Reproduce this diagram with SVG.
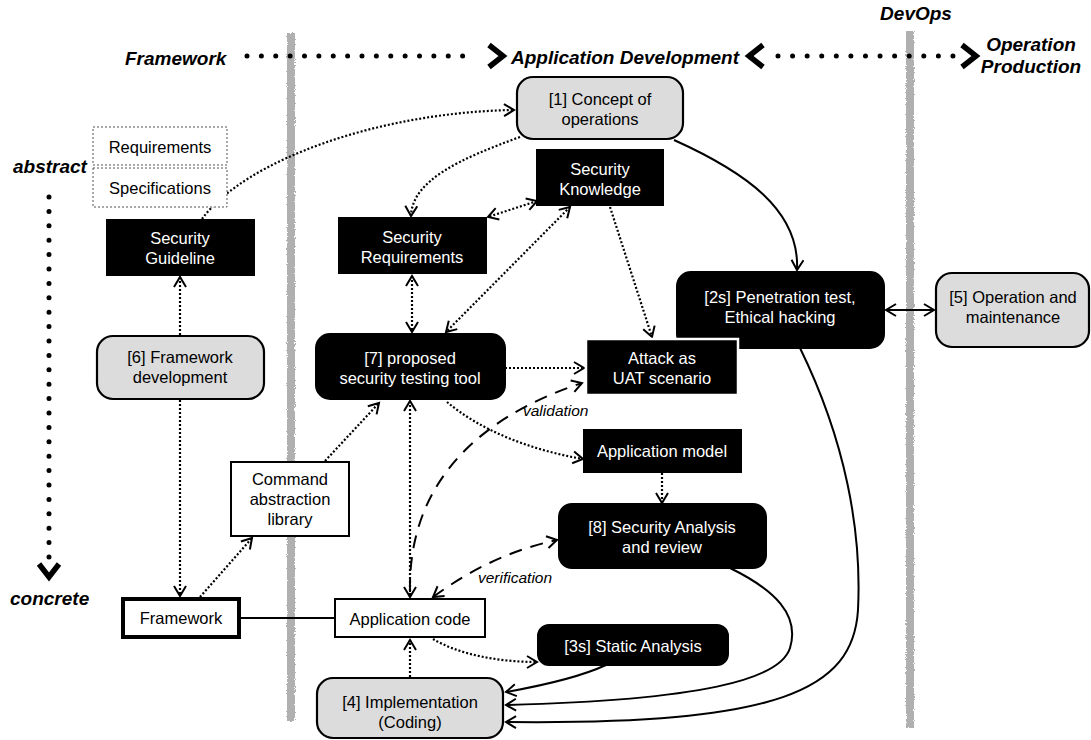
<svg xmlns="http://www.w3.org/2000/svg" width="1091" height="740" viewBox="0 0 1091 740">
  <style>
    .t { font-family: "Liberation Sans", Arial, sans-serif; font-size: 16.5px; text-anchor: middle; fill: #000; }
    .tw { fill: #fff; }
    .hdr { font-family: "Liberation Sans", Arial, sans-serif; font-size: 19px; font-weight: bold; font-style: italic; fill: #000; }
    .lab { font-family: "Liberation Sans", Arial, sans-serif; font-size: 15.5px; font-style: italic; fill: #000; }
    .dot { fill: none; stroke: #000; stroke-width: 2.2; stroke-dasharray: 2 2; }
    .dash { fill: none; stroke: #000; stroke-width: 2; stroke-dasharray: 13 9; }
    .sol { fill: none; stroke: #000; stroke-width: 2; }
    .big { fill: none; stroke: #000; stroke-width: 5; stroke-linecap: round; }
    .chev { fill: none; stroke: #000; stroke-width: 5.5; stroke-linejoin: miter; }
    .blk { fill: #000; stroke: #000; stroke-width: 2; }
    .gry { fill: #dcdcdc; stroke: #000; stroke-width: 2.2; }
    .wht { fill: #fff; stroke: #000; stroke-width: 2; }
    .bar { fill: #b0b0b0; }
  </style>
  <defs>
    <marker id="ah" markerUnits="userSpaceOnUse" markerWidth="14" markerHeight="16" refX="11" refY="7" orient="auto-start-reverse">
      <path d="M1,1 L11,7 L1,13" fill="none" stroke="#000" stroke-width="2" stroke-dasharray="none"/>
    </marker>
    <filter id="grain" x="-50%" y="0" width="200%" height="100%">
      <feTurbulence type="fractalNoise" baseFrequency="0.9" numOctaves="2" seed="3" result="n"/>
      <feDisplacementMap in="SourceGraphic" in2="n" scale="3" xChannelSelector="R" yChannelSelector="G"/>
    </filter>
  </defs>

  <rect width="1091" height="740" fill="#fff"/>

  <!-- lane separators -->
  <g id="lanes" filter="url(#grain)">
    <rect class="bar" x="287" y="33" width="8" height="688"/>
    <rect class="bar" x="906" y="31" width="8" height="697"/>
  </g>

  <!-- phase axis along the top and abstraction axis on the left -->
  <g id="axes">
    <text class="hdr" x="125" y="65">Framework</text>
    <line class="big" x1="247" y1="56" x2="477" y2="56" stroke-dasharray="0 14.375"/>
    <polyline class="chev" points="489,45 503,56 489,67"/>
    <text class="hdr" x="511" y="64">Application Development</text>
    <polyline class="chev" points="763,45 749,56 763,67"/>
    <line class="big" x1="778" y1="56" x2="953" y2="56" stroke-dasharray="0 14.58"/>
    <polyline class="chev" points="962,45 976,56 962,67"/>
    <text class="hdr" x="916" y="20" text-anchor="middle">DevOps</text>
    <text class="hdr" x="1031" y="51" text-anchor="middle">Operation</text>
    <text class="hdr" x="1031" y="73" text-anchor="middle">Production</text>

    <text class="hdr" x="13" y="173">abstract</text>
    <line class="big" x1="49" y1="197" x2="49" y2="557" stroke-dasharray="0 14.4"/>
    <polyline class="chev" points="39,564 49,577 59,564"/>
    <text class="hdr" x="10" y="605">concrete</text>
  </g>

  <!-- connectors -->
  <g id="connectors">
    <path class="dot" d="M202,219 C245,160 380,112 514,110" marker-end="url(#ah)"/>
    <path class="dot" d="M180,335 L180,277" marker-end="url(#ah)"/>
    <path class="dot" d="M180,400 L180,596" marker-end="url(#ah)"/>
    <path class="dot" d="M200,597 L252,538" marker-end="url(#ah)"/>
    <path class="dot" d="M325,461 L379,403" marker-end="url(#ah)"/>
    <path class="sol" d="M240,618 L335,618"/>
    <path class="dot" d="M410,401 L410,597" marker-start="url(#ah)" marker-end="url(#ah)"/>
    <path class="dot" d="M410,677 L410,640" marker-end="url(#ah)"/>
    <path class="dot" d="M520,137 C462,158 412,180 411,216" marker-end="url(#ah)"/>
    <path class="sol" d="M674,140 C745,172 800,210 797,270" marker-end="url(#ah)"/>
    <path class="dot" d="M537,201 L488,217" marker-start="url(#ah)" marker-end="url(#ah)"/>
    <path class="dot" d="M412,276 L412,332" marker-start="url(#ah)" marker-end="url(#ah)"/>
    <path class="dot" d="M570,207 L446,332" marker-start="url(#ah)" marker-end="url(#ah)"/>
    <path class="dot" d="M610,207 L652,337" marker-end="url(#ah)"/>
    <path class="dot" d="M505,368 L584,368" marker-end="url(#ah)"/>
    <path class="dot" d="M447,402 C480,430 530,450 583,459" marker-end="url(#ah)"/>
    <path class="dot" d="M662,473 L662,503" marker-end="url(#ah)"/>
    <path class="dot" d="M433,639 C460,655 500,662 537,662" marker-end="url(#ah)"/>
    <path class="sol" d="M886,310 L934,310" marker-start="url(#ah)" marker-end="url(#ah)"/>
    <path class="dash" d="M410,592 C408,490 470,420 582,383" marker-end="url(#ah)"/>
    <path class="dash" d="M433,597 C470,570 510,550 557,540" marker-start="url(#ah)" marker-end="url(#ah)"/>
    <path class="sol" d="M606,665 C580,677 540,686 506,692" marker-end="url(#ah)"/>
    <path class="sol" d="M730,568 C775,590 800,615 790,648 C780,680 700,700 506,705" marker-end="url(#ah)"/>
    <path class="sol" d="M800,348 C845,440 862,530 858,610 C853,690 780,725 506,722" marker-end="url(#ah)"/>
    <text class="lab" x="523" y="416">validation</text>
    <text class="lab" x="478" y="583">verification</text>
  </g>

  <!-- nodes -->
  <g id="req-spec">
    <rect x="93" y="127" width="134" height="38" fill="#fff" stroke="#555" stroke-width="1" stroke-dasharray="2 2"/>
    <rect x="93" y="168" width="134" height="39" fill="#fff" stroke="#555" stroke-width="1" stroke-dasharray="2 2"/>
    <text class="t" x="160" y="153">Requirements</text>
    <text class="t" x="160" y="194">Specifications</text>
  </g>
  <g id="security-guideline">
    <rect class="blk" x="107" y="220" width="147" height="55"/>
    <text class="t tw" x="180" y="244">Security</text>
    <text class="t tw" x="180" y="264">Guideline</text>
  </g>
  <g id="framework-development">
    <rect class="gry" x="97" y="336" width="167" height="63" rx="16"/>
    <text class="t" x="180" y="363">[6] Framework</text>
    <text class="t" x="180" y="383">development</text>
  </g>
  <g id="framework">
    <rect x="123" y="599" width="116" height="38" fill="#fff" stroke="#000" stroke-width="4"/>
    <text class="t" x="181" y="624">Framework</text>
  </g>
  <g id="command-library">
    <rect class="wht" x="231" y="462" width="118" height="74"/>
    <text class="t" x="290" y="485">Command</text>
    <text class="t" x="290" y="505">abstraction</text>
    <text class="t" x="290" y="525">library</text>
  </g>
  <g id="concept-of-operations">
    <rect class="gry" x="517" y="77" width="166" height="62" rx="16"/>
    <text class="t" x="600" y="105">[1] Concept of</text>
    <text class="t" x="600" y="125">operations</text>
  </g>
  <g id="security-knowledge">
    <rect class="blk" x="537" y="150" width="126" height="55"/>
    <text class="t tw" x="600" y="175">Security</text>
    <text class="t tw" x="600" y="195">Knowledge</text>
  </g>
  <g id="security-requirements">
    <rect class="blk" x="339" y="218" width="147" height="55"/>
    <text class="t tw" x="412" y="243">Security</text>
    <text class="t tw" x="412" y="263">Requirements</text>
  </g>
  <g id="testing-tool">
    <rect class="blk" x="316" y="334" width="189" height="65" rx="14"/>
    <text class="t tw" x="410" y="364">[7] proposed</text>
    <text class="t tw" x="410" y="384">security testing tool</text>
  </g>
  <g id="penetration-test">
    <rect class="blk" x="677" y="272" width="207" height="76" rx="14"/>
    <text class="t tw" x="780" y="303">[2s] Penetration test,</text>
    <text class="t tw" x="780" y="323">Ethical hacking</text>
  </g>
  <g id="operation-maintenance">
    <rect class="gry" x="936" y="273" width="153" height="74" rx="16"/>
    <text class="t" x="1013" y="303">[5] Operation and</text>
    <text class="t" x="1013" y="323">maintenance</text>
  </g>
  <g id="attack-uat">
    <rect x="586" y="339" width="152" height="56" fill="#000" stroke="#fff" stroke-width="2.5"/>
    <text class="t tw" x="662" y="364">Attack as</text>
    <text class="t tw" x="662" y="384">UAT scenario</text>
  </g>
  <g id="application-model">
    <rect class="blk" x="584" y="430" width="157" height="42"/>
    <text class="t tw" x="662" y="457">Application model</text>
  </g>
  <g id="security-analysis">
    <rect class="blk" x="559" y="504" width="207" height="64" rx="13"/>
    <text class="t tw" x="662" y="533">[8] Security Analysis</text>
    <text class="t tw" x="662" y="553">and review</text>
  </g>
  <g id="application-code">
    <rect class="wht" x="335" y="599" width="150" height="38"/>
    <text class="t" x="410" y="625">Application code</text>
  </g>
  <g id="static-analysis">
    <rect class="blk" x="538" y="625" width="190" height="40" rx="11"/>
    <text class="t tw" x="633" y="652">[3s] Static Analysis</text>
  </g>
  <g id="implementation">
    <rect class="gry" x="317" y="678" width="186" height="60" rx="16"/>
    <text class="t" x="410" y="708">[4] Implementation</text>
    <text class="t" x="410" y="728">(Coding)</text>
  </g>
</svg>
